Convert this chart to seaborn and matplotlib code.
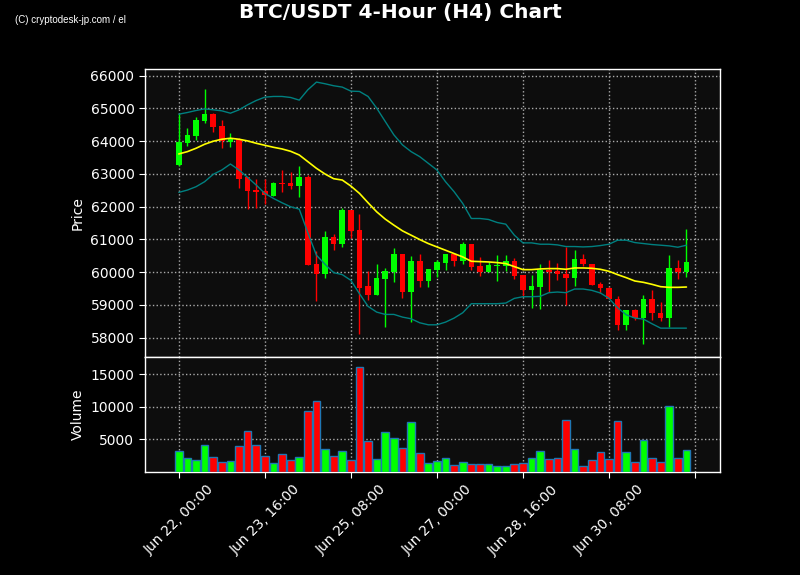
"""
BTC/USDT 4時間足チャート (ボリンジャーバンド + 出来高)
"""

import numpy as np
import pandas as pd
import matplotlib
matplotlib.use('Agg')
import matplotlib.pyplot as plt
import seaborn as sns

# ローソク足データ (4時間足, 2024-06-22 00:00 から)
opens = [63274, 63958, 64162, 64632, 64836, 64468, 63989, 64081, 62896, 62508,
         62478, 62335, 62723, 62723, 62641, 62917, 60242, 59956, 61069, 60854,
         61896, 61283, 59568, 59292, 59782, 59997, 60548, 59394, 60333, 59731,
         60058, 60282, 60548, 60344, 60854, 60180, 59997, 60180, 60190, 60333,
         59905, 59445, 59547, 60058, 60027, 59956, 59823, 60415, 60262, 59629,
         59527, 59190, 58373, 58833, 58598, 59190, 58761, 58608, 60139, 60007]
highs = [64836, 64397, 64754, 65592, 64850, 64652, 64264, 64100, 62896, 62835,
         62835, 62763, 63121, 63049, 63243, 62968, 60650, 61273, 61160, 61967,
         61896, 61763, 60037, 60262, 60139, 60752, 60548, 60507, 60568, 60088,
         60385, 60548, 60548, 60926, 60854, 60466, 60313, 60538, 60538, 60446,
         59905, 59905, 60242, 60364, 60293, 60772, 60691, 60568, 60262, 59700,
         59547, 59272, 58833, 58884, 59312, 59465, 59088, 60538, 60364, 61334]
lows = [63250, 63856, 64040, 64550, 64275, 63784, 63815, 62559, 61916, 61947,
        62079, 62335, 62437, 62528, 62304, 60211, 59108, 59833, 60691, 60772,
        61058, 58118, 59139, 59292, 58322, 59700, 59221, 58475, 59547, 59547,
        59853, 60078, 60190, 60262, 60078, 59874, 59997, 59731, 60037, 59803,
        59261, 58914, 58884, 59394, 59751, 59006, 59578, 60190, 59598, 59374,
        59180, 58220, 58240, 58526, 57812, 58526, 58496, 58322, 59782, 59853]
closes = [63989, 64193, 64652, 64836, 64448, 64019, 64081, 62855, 62488, 62457,
          62365, 62723, 62692, 62641, 62906, 60211, 59956, 61069, 60864, 61896,
          61252, 59527, 59292, 59813, 60027, 60548, 59394, 60333, 59731, 60088,
          60303, 60548, 60333, 60854, 60160, 59997, 60211, 60211, 60333, 59884,
          59445, 59568, 60058, 60007, 59956, 59823, 60415, 60242, 59598, 59506,
          59180, 58373, 58833, 58598, 59190, 58761, 58608, 60139, 60007, 60303]
volumes = [3177, 2116, 1813, 4086, 2268, 1510, 1662, 3934, 6358, 4086,
           2419, 1359, 2722, 1813, 2268, 9438, 10903, 3480, 2419, 3177,
           1863, 16054, 4692, 1965, 6207, 5298, 3681, 7722, 2874, 1359,
           1662, 2116, 1056, 1611, 1308, 1207, 1308, 1005, 1005, 1207,
           1459, 2116, 3177, 1965, 2116, 8025, 3480, 904, 1813, 3025,
           1965, 7873, 3025, 1510, 4995, 2116, 1510, 10095, 2116, 3328]

# ボリンジャーバンド (20期間, 2σ)
bb_upper = [64826, 64877, 64938, 64989, 64959, 64928, 64856, 64959, 65112, 65244,
            65346, 65367, 65367, 65336, 65255, 65571, 65806, 65755, 65694, 65653,
            65530, 65520, 65367, 65010, 64601, 64193, 63886, 63682, 63529, 63325,
            63121, 62763, 62457, 62100, 61640, 61640, 61610, 61518, 61467, 61130,
            60895, 60895, 60854, 60854, 60834, 60783, 60783, 60772, 60783, 60813,
            60854, 60977, 60977, 60905, 60875, 60844, 60824, 60803, 60762, 60824]
bb_mid = [63611, 63682, 63784, 63907, 63999, 64060, 64091, 64060, 64009, 63937,
          63876, 63815, 63764, 63692, 63580, 63376, 63172, 62998, 62855, 62814,
          62631, 62406, 62120, 61844, 61620, 61436, 61262, 61130, 60997, 60874,
          60772, 60670, 60568, 60466, 60333, 60323, 60313, 60293, 60262, 60170,
          60078, 60078, 60099, 60109, 60109, 60088, 60129, 60129, 60119, 60088,
          60027, 59925, 59833, 59731, 59690, 59629, 59557, 59537, 59537, 59547]
bb_lower = [62437, 62508, 62610, 62763, 62988, 63121, 63304, 63121, 62896, 62661,
            62406, 62253, 62120, 61998, 61926, 61201, 60517, 60241, 59986, 59925,
            59751, 59343, 58955, 58781, 58710, 58710, 58628, 58577, 58455, 58393,
            58393, 58475, 58598, 58761, 59037, 59037, 59037, 59037, 59057, 59200,
            59251, 59251, 59262, 59374, 59394, 59374, 59486, 59486, 59445, 59364,
            59200, 58914, 58700, 58598, 58567, 58424, 58291, 58291, 58291, 58291]

fechas = pd.date_range('2024-06-22 00:00', periods=len(closes), freq='4h')

df = pd.DataFrame({'Open': opens, 'High': highs, 'Low': lows, 'Close': closes,
                   'Volume': volumes, 'Upper': bb_upper, 'Mid': bb_mid,
                   'Lower': bb_lower})
df['idx'] = np.arange(len(df))

sns.set_style('dark')
plt.rcParams['font.family'] = ['DejaVu Sans']

VERDE = '#00ff00'
ROJO = '#ff0000'
colores = [VERDE if c >= o else ROJO for o, c in zip(df['Open'], df['Close'])]

fig, (ax1, ax2) = plt.subplots(2, 1, figsize=(8, 5.75), dpi=100, sharex=True,
                               gridspec_kw={'height_ratios': [2.5, 1], 'hspace': 0})
fig.patch.set_facecolor('black')
fig.subplots_adjust(left=0.181, right=0.9, top=0.88, bottom=0.179)

for ax in (ax1, ax2):
    ax.set_facecolor('#0d0d0d')
    ax.grid(True, color='#aaaaaa', linestyle=':', linewidth=1)
    ax.tick_params(colors='white', labelsize=10, length=4, direction='out',
                   left=True, bottom=True)
    for s in ax.spines.values():
        s.set_color('white')
        s.set_linewidth(1)

# Mechas y cuerpos
ax1.vlines(df['idx'], df['Low'], df['High'], colors=colores, linewidth=1, zorder=2)
cuerpo = (df['Close'] - df['Open']).abs().clip(lower=20)
base = df[['Open', 'Close']].min(axis=1)
ax1.bar(df['idx'], cuerpo, bottom=base, width=0.65, color=colores,
        linewidth=0, zorder=3)

# Bandas de Bollinger
sns.lineplot(data=df, x='idx', y='Upper', ax=ax1, color='teal', linewidth=1, zorder=4)
sns.lineplot(data=df, x='idx', y='Mid', ax=ax1, color='yellow', linewidth=1.2, zorder=4)
sns.lineplot(data=df, x='idx', y='Lower', ax=ax1, color='teal', linewidth=1, zorder=4)

ax1.set_yticks(np.arange(58000, 66001, 1000))
ax1.set_ylabel('Price', color='white', fontsize=10)
ax1.set_xlabel('')

# Volumen
ax2.bar(df['idx'], df['Volume'], width=0.9, color=colores, edgecolor='#1f77b4',
        linewidth=1, zorder=3)
ax2.set_ylim(0, max(volumes) * 1.1)
ax2.set_yticks([5000, 10000, 15000])
ax2.set_ylabel('Volume', color='white', fontsize=10)

ticks = np.arange(0, 61, 10)
etiquetas = [fechas[t].strftime('%b %d, %H:%M') if t < len(fechas) else '' for t in ticks]
ax2.set_xticks(ticks)
ax2.set_xticklabels(etiquetas, rotation=45, ha='center')
ax2.set_xlim(-3.95, 62.9)

fig.suptitle('BTC/USDT 4-Hour (H4) Chart', color='white', fontsize=14.5,
             fontweight='bold', y=0.995)
fig.text(0.019, 0.965, '(C) cryptodesk-jp.com / el', color='white', fontsize=7,
         family='Liberation Sans', va='center')

plt.savefig('out.png', dpi=100, facecolor=fig.get_facecolor())
